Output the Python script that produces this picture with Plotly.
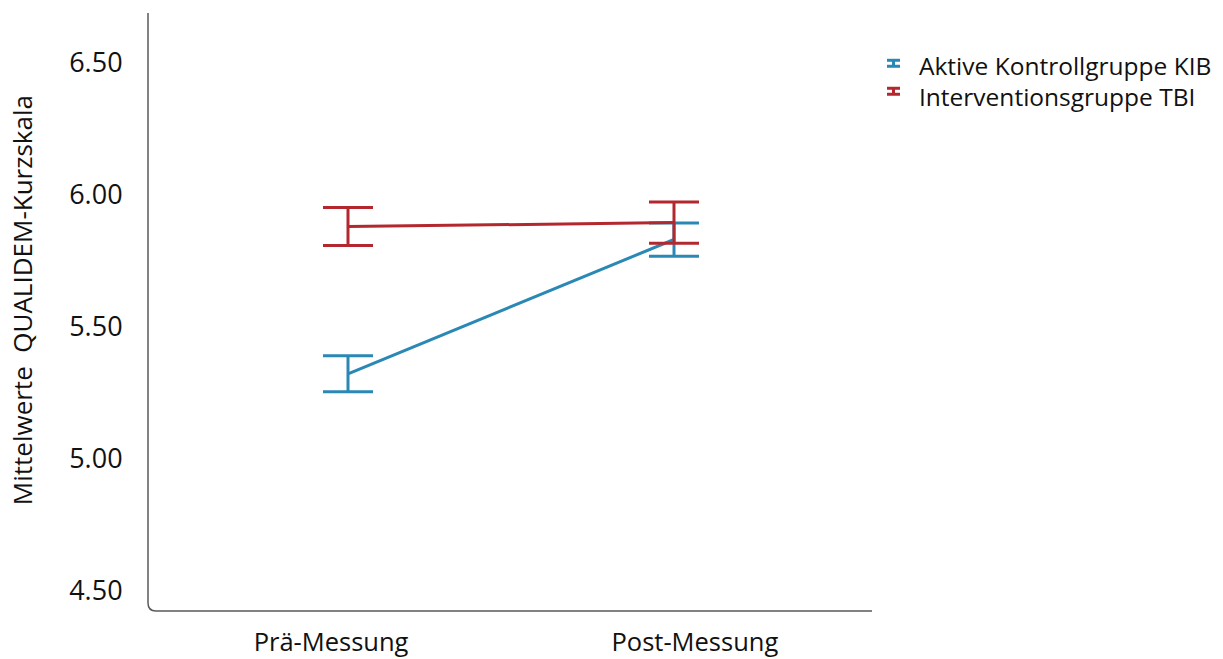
import plotly.graph_objects as go

# ---- data ----
categories = ["Prä-Messung", "Post-Messung"]
groups = ["Aktive Kontrollgruppe KIB", "Interventionsgruppe TBI"]
kib_mean = [5.322, 5.831]
kib_err = [0.068, 0.063]
tbi_mean = [5.880, 5.895]
tbi_err = [0.072, 0.078]
y_ticks = [4.5, 5.0, 5.5, 6.0, 6.5]

colors = ["#2a88b5", "#b3282e"]

# plot box in pixels
W, H = 1223, 659
L, R, T, B = 148, 872, 12.7, 611


def px(x):
    return (x - L) / (R - L)


def py(y):
    return (B - y) / (B - T)


x_pos = [0, 1]
fig = go.Figure()
for name, m, e, c in [(groups[0], kib_mean, kib_err, colors[0]),
                      (groups[1], tbi_mean, tbi_err, colors[1])]:
    fig.add_trace(go.Scatter(
        x=x_pos, y=m, name=name, mode="lines",
        line=dict(color=c, width=3),
        error_y=dict(type="data", array=e, visible=True, color=c,
                     thickness=3, width=25),
        showlegend=False,
    ))

font = "Open Sans"
shapes = [dict(type="path", xref="paper", yref="paper",
               path=f"M 0,1 L 0,{py(B-8)} Q 0,0 {px(L+8)},0 L 1,0",
               line=dict(color="#5a5a5a", width=1.5))]
annotations = []
# legend (manual, with error-bar icons)
for i, (name, c) in enumerate(zip(groups, colors)):
    iy = 63 + 28 * i
    ty = 65 + 31 * i
    cx = 893.5
    shapes += [
        dict(type="line", xref="paper", yref="paper", x0=px(cx), x1=px(cx),
             y0=py(iy - 3), y1=py(iy + 3), line=dict(color=c, width=3)),
        dict(type="line", xref="paper", yref="paper", x0=px(cx - 6.5), x1=px(cx + 6.5),
             y0=py(iy - 3), y1=py(iy - 3), line=dict(color=c, width=3)),
        dict(type="line", xref="paper", yref="paper", x0=px(cx - 6.5), x1=px(cx + 6.5),
             y0=py(iy + 3), y1=py(iy + 3), line=dict(color=c, width=3)),
    ]
    annotations.append(dict(xref="paper", yref="paper", x=px(917), y=py(ty),
                            xanchor="left", yanchor="middle", showarrow=False,
                            text=name, font=dict(family=font, size=24.5, color="#111")))
annotations.append(dict(xref="paper", yref="paper", x=px(22), y=py(300),
                        xanchor="center", yanchor="middle", showarrow=False,
                        textangle=-90, text="Mittelwerte\u00a0 QUALIDEM-Kurzskala",
                        font=dict(family=font, size=26, color="#111")))

lo = (L - 348) / 326
hi = (R - 348) / 326
fig.update_layout(
    width=W, height=H,
    margin=dict(l=L, r=W - R, t=T, b=H - B, autoexpand=False),
    paper_bgcolor="white", plot_bgcolor="white",
    shapes=shapes, annotations=annotations,
    xaxis=dict(range=[lo, hi], tickvals=[-0.052, 1.064], ticktext=categories,
               showgrid=False, zeroline=False, showline=False, automargin=False,
               ticks="outside", ticklen=8, tickcolor="rgba(0,0,0,0)",
               tickfont=dict(family=font, size=25.5, color="#111")),
    yaxis=dict(range=[6.5 - (B - 62.7) / 264, 6.5 + (62.7 - T) / 264],
               tickvals=y_ticks, tickformat=".2f", automargin=False,
               showgrid=False, zeroline=False, showline=False,
               ticks="outside", ticklen=19, tickcolor="rgba(0,0,0,0)",
               tickfont=dict(family=font, size=27, color="#111")),
)
fig.write_html("out.html", config={"displayModeBar": False},
               post_script="document.body.style.margin='0';document.body.style.overflow='hidden';")
